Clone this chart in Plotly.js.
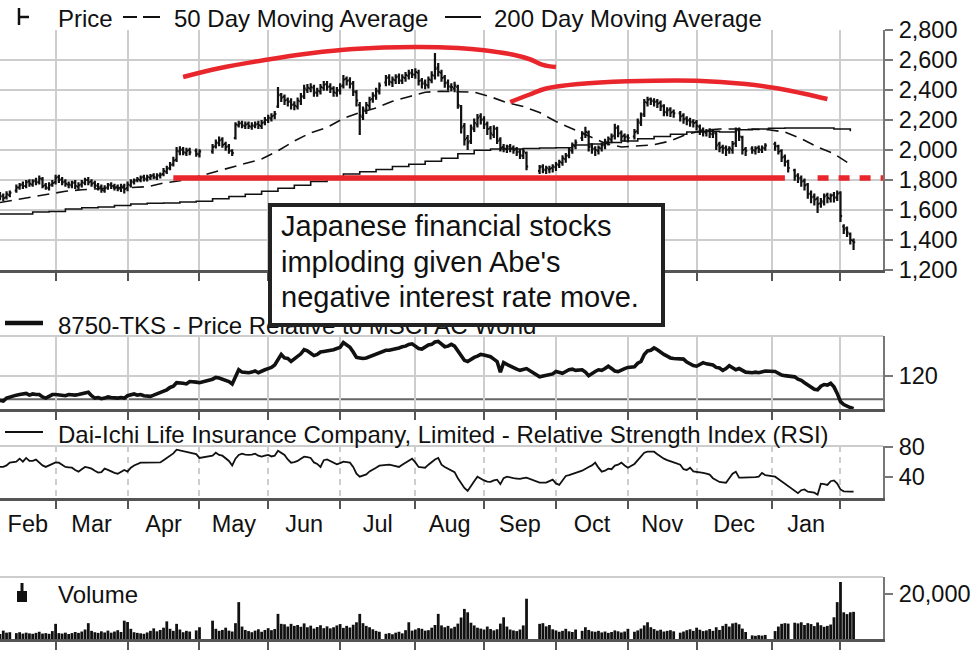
<!DOCTYPE html>
<html><head><meta charset="utf-8">
<script src="https://cdn.plot.ly/plotly-3.0.1.min.js"></script>
<style>html,body{margin:0;padding:0;background:#fff}#chart{width:976px;height:654px}</style>
</head><body><div id="chart"></div>
<script>
// ---------------- DATA ----------------
const startDate = '2015-02-05';
const rangeEnd = '2016-02-18';
const monthStarts = ['2015-03-02','2015-04-01','2015-05-01','2015-06-01','2015-07-01','2015-08-03','2015-09-01','2015-10-01','2015-11-02','2015-12-01','2016-01-01','2016-02-01'];
const monthMid = ['2015-02-17 12:00','2015-03-17','2015-04-16','2015-05-15 12:00','2015-06-16','2015-07-16 12:00','2015-08-17 12:00','2015-09-16','2015-10-16','2015-11-16 12:00','2015-12-16 12:00','2016-01-15 12:00'];
const monthNames = ['Feb','Mar','Apr','May','Jun','Jul','Aug','Sep','Oct','Nov','Dec','Jan'];
const priceTicks = [1200,1400,1600,1800,2000,2200,2400,2600,2800];
const relTicks = [120];
const rsiTicks = [40,80];
const volTicks = [20000];
const relBase = 100;

const openP = [
1700,1695,1685,1700,null,1730,1750,1770,1760,1790,
1770,1795,1785,1805,1765,1745,1770,1785,1820,1805,
1790,1770,1765,1785,1755,1770,1780,1800,1790,1780,
1760,1755,1730,1750,1770,1760,1755,1740,1760,1745,
1765,1785,1800,1800,1820,1805,1815,1830,1815,1830,
1840,1855,1880,1905,1935,1990,2005,1980,2000,null,
1995,1970,null,null,null,1990,2025,2045,2070,2040,
2025,1995,2080,2165,2180,2160,2175,2155,2160,2175,
2160,2185,2200,2210,2230,2290,2370,2355,2335,2325,
2305,2290,2325,2360,2400,2410,2415,2380,2390,2415,
2440,2425,2410,2380,2395,2430,2475,2465,2445,2385,
2300,2220,2260,2295,2340,2360,2390,null,2450,2485,
2450,2465,2490,2460,2480,2495,2515,2500,2515,2465,
2450,2430,2465,2495,2550,2515,2485,2450,2420,2410,
2420,2290,2160,2080,2060,2140,2170,2225,2205,2175,
2145,2100,2140,2070,2020,2005,2025,2015,2005,1990,
1960,1980,null,null,null,1860,1890,1865,1870,1880,
1885,1900,1915,1940,1965,1995,2025,null,2080,2105,
2115,2030,2010,1995,2010,2030,2050,2070,2095,2150,
2115,2095,2090,null,2090,2125,2180,2240,2315,2340,
2325,2325,2315,2295,2250,2270,2255,null,2245,2230,
2210,2200,2190,2185,2155,2135,2115,2130,2105,2110,
2040,2020,2015,2005,2000,2045,2140,2085,2005,null,
2010,1995,2015,2000,2010,null,null,2040,2025,1995,
1955,1925,null,1865,1830,1815,1795,1770,1710,1690,
1675,1645,1650,1700,1675,1700,1680,1715,1490,1480,
1440,1395];
const highP = [
1720,1710,1725,1730,null,1770,1780,1790,1800,1805,
1805,1815,1830,1820,1780,1785,1800,1835,1835,1820,
1805,1790,1795,1800,1785,1800,1815,1820,1805,1795,
1780,1770,1765,1780,1785,1775,1770,1775,1775,1790,
1805,1810,1820,1830,1835,1835,1840,1845,1845,1850,
1880,1895,1920,1955,2020,2025,2020,2015,2015,null,
2010,2005,null,null,null,2040,2070,2090,2085,2055,
2040,2005,2185,2195,2195,2190,2190,2185,2190,2195,
2200,2220,2235,2245,2260,2420,2380,2370,2350,2345,
2325,2350,2380,2435,2440,2445,2435,2415,2440,2460,
2460,2445,2425,2420,2445,2500,2490,2485,2460,2400,
2320,2290,2320,2355,2385,2415,2450,null,2500,2505,
2490,2505,2510,2505,2520,2535,2540,2545,2535,2480,
2470,2490,2525,2647,2580,2535,2500,2470,2445,2455,
2435,2300,2180,2100,2170,2210,2240,2245,2225,2190,
2160,2165,2155,2085,2040,2035,2040,2030,2020,2005,
2010,1990,null,null,null,1900,1905,1895,1895,1905,
1920,1935,1965,1980,2015,2050,2070,null,2125,2155,
2130,2045,2025,2030,2050,2075,2090,2110,2175,2165,
2130,2110,2105,null,2140,2210,2250,2340,2355,2350,
2345,2340,2330,2305,2285,2285,2270,null,2260,2245,
2225,2215,2205,2200,2170,2150,2140,2145,2135,2120,
2055,2035,2030,2025,2060,2150,2150,2095,2020,null,
2025,2025,2030,2030,2045,null,null,2055,2035,2005,
1970,1935,null,1875,1845,1830,1810,1780,1730,1710,
1690,1680,1710,1715,1710,1720,1730,1725,1505,1490,
1450,1410];
const lowP = [
1665,1660,1670,1685,null,1715,1735,1740,1745,1755,
1755,1765,1770,1745,1735,1730,1755,1770,1780,1765,
1755,1745,1745,1740,1735,1750,1765,1765,1755,1745,
1730,1715,1715,1735,1740,1730,1725,1720,1710,1725,
1750,1770,1785,1785,1790,1790,1800,1805,1800,1810,
1825,1840,1865,1890,1920,1965,1965,1960,1965,null,
1955,1950,null,null,null,1975,2010,2025,2015,1995,
1975,1960,2070,2150,2145,2140,2140,2135,2145,2140,
2140,2165,2180,2190,2205,2280,2320,2300,2290,2270,
2265,2270,2300,2340,2380,2385,2355,2355,2370,2395,
2395,2380,2355,2355,2370,2410,2430,2410,2360,2290,
2100,2200,2240,2270,2315,2335,2370,null,2425,2430,
2420,2440,2440,2440,2455,2470,2480,2475,2430,2410,
2405,2410,2445,2470,2490,2455,2415,2395,2390,2385,
2275,2110,2030,2000,2040,2120,2150,2170,2140,2100,
2070,2080,2040,1990,1985,1980,1985,1975,1960,1940,
1940,1865,null,null,null,1840,1845,1840,1845,1850,
1860,1880,1895,1915,1945,1975,2005,null,2060,2080,
1990,1975,1960,1970,1990,2005,2030,2045,2070,2085,
2060,2055,2050,null,2070,2105,2160,2220,2290,2300,
2290,2280,2260,2225,2225,2220,2215,null,2190,2175,
2165,2155,2150,2130,2100,2090,2090,2080,2080,2000,
1985,1975,1960,1975,1975,2020,2060,1970,1960,null,
1975,1970,1980,1980,1995,null,null,1995,1970,1920,
1890,1850,null,1795,1780,1755,1730,1675,1645,1630,
1580,1615,1630,1645,1650,1650,1660,1520,1440,1420,
1370,1333];
const closeP = [
1690,1680,1705,1715,null,1750,1765,1760,1785,1775,
1790,1785,1810,1760,1750,1765,1780,1815,1800,1785,
1775,1770,1780,1760,1765,1785,1800,1785,1775,1765,
1750,1735,1745,1765,1760,1750,1745,1755,1740,1770,
1790,1795,1805,1815,1810,1820,1825,1820,1830,1835,
1860,1875,1900,1930,1995,2000,1985,1995,1985,null,
1975,1990,null,null,null,2020,2050,2065,2035,2020,
1995,1980,2170,2175,2165,2170,2160,2165,2170,2165,
2180,2200,2215,2225,2240,2365,2350,2330,2320,2300,
2295,2330,2355,2410,2415,2420,2385,2395,2420,2435,
2420,2410,2385,2400,2425,2470,2460,2440,2390,2330,
2230,2270,2300,2335,2365,2395,2430,null,2480,2455,
2470,2485,2465,2485,2500,2510,2505,2520,2460,2440,
2435,2470,2500,2540,2520,2480,2445,2425,2420,2430,
2300,2150,2070,2050,2150,2180,2215,2200,2170,2140,
2110,2145,2060,2015,2010,2020,2010,2000,1985,1965,
1990,1890,null,null,null,1885,1870,1880,1875,1890,
1905,1920,1945,1960,2000,2030,2050,null,2110,2120,
2020,2005,2000,2015,2035,2055,2075,2090,2145,2110,
2090,2085,2080,null,2120,2190,2230,2320,2335,2330,
2320,2310,2290,2255,2265,2250,2245,null,2225,2205,
2195,2185,2180,2160,2130,2120,2125,2110,2115,2030,
2015,2010,2000,2010,2040,2130,2090,2000,1995,null,
2000,2010,2005,2015,2030,null,null,2025,1990,1950,
1920,1880,null,1825,1810,1790,1765,1705,1685,1670,
1640,1660,1690,1680,1695,1685,1710,1560,1470,1450,
1400,1385];
// moving averages, one value every 5 trading slots
const ma50 = [1650,1670,1690,1710,1725,1735,1742,1748,1750,1755,1780,1795,1820,1850,1875,1905,1940,1995,2060,2115,2150,2210,2250,2280,2325,2355,2385,2392,2390,2385,2355,2315,2290,2250,2190,2140,2090,2045,2020,2025,2035,2060,2105,2130,2140,2140,2140,2135,2120,2075,2020,1975,1905];
const ma200 = [1573,1573,1587,1590,1607,1615,1620,1630,1640,1645,1647,1653,1658,1675,1690,1705,1725,1745,1765,1790,1815,1840,1855,1870,1890,1905,1925,1945,1975,1998,2007,2007,2010,2013,2015,2033,2040,2050,2060,2075,2090,2105,2120,2125,2120,2135,2140,2145,2147,2147,2147,2140,2125];
const relStrength = [
99,98.5,101,102,null,103.5,104,104.5,105,103.5,
104.5,104,104,102,101,102.5,104,104,103.5,103,
103,104,103.5,103.5,104,104.5,105.5,106,103,101,
101.5,100.5,101,102,101.5,101,101,101.5,101,103,
104,104.5,103.5,104,103,102.5,102.5,103.5,104.5,105.5,
107,108,110,111,114,114,113.5,113,115,null,
114.5,114,null,null,null,117,118.5,118,117,116.5,
115,113,120,125,123,122.5,122.5,123,124,122.5,
124,125,126,127,129,133,138,135,134.5,132,
134,136,138.5,142,141,139,137,138,140,140.5,
141,141,142,143,144,148,146,144,140,135.5,
135,134.5,135,136,137.5,138,139.5,null,141.5,141.5,
142,143,143.5,144.5,145,146.5,147,145,143,142.5,
144,146,146.5,148.5,149,146.5,144.5,145,146.5,145,
141,137,133,132,134,135.5,136.5,138,137.5,137,
136,134,132,123,131,129.5,128,126.5,125.5,124.5,
125,126,null,null,null,119,119.5,120,121,121.5,
123.5,122.5,122,123.5,125,125.5,124.5,null,125,123,
120,122,123.5,125,124.5,126,128,126,124,123.5,
125,126,127,null,127.5,130.5,132,138,141,141.5,
143.5,142,139.5,138,136.5,135,134.5,null,134,134,
131.5,130,128.5,128,129.5,131,130,129.5,129,127,
126.5,124.5,126,128.5,127,125,126,124.5,123,null,
122.5,123,122.5,123,124,null,null,123.5,122,120.5,
120,119.5,null,119,117,116,114,112,110.5,108.5,
108,111,112.5,112,113.5,110.5,105,98,95.5,94,
93,92];
const rsi = [
53,53,55,58.7,null,60,64,60,65,61,
61,62.7,59,55,53,55,57,59,58.7,56,
53,52.5,52,49,46.7,50,53,52,50.7,48,
45.5,46,50.7,49,46.7,45,44,47,49,46.7,
52,55,57,58.7,58.7,58.7,58.7,58.7,58.7,59,
62,65,67,71,76,75,73.5,73.3,72,null,
70,65,null,null,null,68,72,69,68,65,
61,55,64,69,70.7,69.5,69,69.5,70.7,68,
66.7,68,69,67,68,74.7,72,69,63,58.7,
59.5,61,64,66.7,66,65,59,57,53,62,
63,60.5,58,56.5,58,60,59.5,58.7,53,44,
40,42,43,47,50,52,54.7,null,55.5,56,
55,54,53,56,58.7,61,64,59,53,52.5,
52,56,60,63,65,56,53,51,49,46,
38,31,25,21,26.7,34,40,37,35,33.5,
33,35,36,30,38,40,38.7,38,37.5,37,
38,38.7,null,null,null,32,32,32,34,36,
31,29,35,41,42,43,45,null,48,51,
53,55,58.7,52,46.7,48,50.7,50,54.7,56,
58.7,55,52,null,57,62,66,72,73.3,73.3,
73.3,70,66.7,64,62,60,59,null,56,50,
49,52,47,46.5,45.5,45,44,42.7,38,35,
33,32.5,32,38,44,46.7,38.7,38.7,38.7,null,
39,39.5,40,45,42,null,null,40,37,34,
31,27,null,21,18,22,23,20,19.5,18.7,
16,30.7,30,29,34,35,30.7,23,20.5,20,
20,20];
const volume = [
2200,3700,2800,3000,null,2600,3000,2400,2800,2500,
2300,2700,3200,2400,2600,2300,3500,6700,2600,2400,
2800,2200,2600,3100,2700,3300,4200,7000,3600,3000,
2700,3400,2900,3700,2800,3300,3900,3100,8100,7500,
4500,3000,2700,2500,2300,2900,3600,4700,3400,4000,
5000,7800,4500,3600,6700,4200,3000,3600,3300,null,
3800,5200,null,null,null,8100,4500,3600,4000,5000,
3700,3300,7000,16300,5500,4000,3500,3000,3700,4300,
3200,4000,4800,3900,4400,11100,6700,6500,5500,6700,
5800,6200,5400,6900,5200,5900,4600,5300,6100,4800,
5600,4700,5200,6000,6600,4900,5800,5100,6300,7400,
11100,7000,5800,5200,4300,3600,3200,null,2300,2600,
2100,2800,3200,2500,3900,7400,3700,4200,4800,4500,
3700,3900,5000,6200,11100,6000,5200,5800,4700,5400,
6800,9500,13300,11800,7200,6000,5000,4600,4200,5500,
4400,3800,4300,6800,9600,5500,4200,3800,3500,4200,
6000,17800,null,null,null,6700,7000,5600,6200,4300,
3800,3200,3600,4500,3400,3100,4200,null,3600,5200,
4000,3400,3200,3600,2900,3300,2700,3100,3800,3400,
2900,3300,4500,null,3200,3800,4600,6000,7400,5200,
4400,3700,4100,3300,3600,3900,3400,null,2800,3300,
3900,4300,3600,5000,4100,3500,3800,4400,3600,5200,
4000,5800,6700,5500,6900,7200,6500,4600,3100,null,
1600,1400,1700,1500,1800,null,null,3500,5500,6700,
7000,6800,null,7200,6900,7400,6200,7000,6600,5700,
7300,6100,5400,5800,6400,9600,16300,25200,11800,11000,
11800,12000];
// hand-drawn red annotation lines (trading-slot index, price)
const arc1Idx = [56,67,81,95,108,127,140,148,157,162,166,170];
const arc1Val = [2487,2545,2600,2645,2673,2687,2680,2665,2635,2605,2568,2553];
const arc2Idx = [156,162,167,177,192,213,228,238,248,253];
const arc2Val = [2320,2370,2410,2440,2458,2462,2440,2410,2365,2340];
const levelVal = 1813;
const levelSolidIdx = [53,240];
const levelDashIdx = 250;

// ---------------- BUILD ----------------
function weekdays(start, n){
  const out=[]; const d=new Date(start+'T00:00:00Z');
  while(out.length<n){const w=d.getUTCDay(); if(w!==0&&w!==6) out.push(d.toISOString().slice(0,10)); d.setUTCDate(d.getUTCDate()+1);}
  return out;
}
const dates = weekdays(startDate, closeP.length);
const maX = ma50.map((_,k)=>dates[k*5]);

const PW=883, PB=639, PH=609;
const px = v => v/PW;
const py = v => (PB - v)/PH;
const FONT = 'Liberation Sans, Arial, Helvetica, sans-serif';
const RED = '#e8262c';
const INK = '#111';

const traces = [
  {type:'ohlc', x:dates, open:openP, high:highP, low:lowP, close:closeP, xaxis:'x', yaxis:'y',
   increasing:{line:{color:INK, width:2.2}}, decreasing:{line:{color:INK, width:2.2}}, tickwidth:0.5, hoverinfo:'skip'},
  {type:'scatter', mode:'lines', x:maX, y:ma50, xaxis:'x', yaxis:'y', line:{color:INK, width:1.6, dash:'12px,7px'}},
  {type:'scatter', mode:'lines', x:maX, y:ma200, xaxis:'x', yaxis:'y', line:{color:INK, width:1.6, shape:'hv'}},
  {type:'scatter', mode:'lines', x:arc1Idx.map(i=>dates[i]), y:arc1Val, xaxis:'x', yaxis:'y', line:{color:RED, width:4.5, shape:'spline'}},
  {type:'scatter', mode:'lines', x:arc2Idx.map(i=>dates[i]), y:arc2Val, xaxis:'x', yaxis:'y', line:{color:RED, width:4.5, shape:'spline'}},
  {type:'scatter', mode:'lines', x:levelSolidIdx.map(i=>dates[i]), y:[levelVal,levelVal], xaxis:'x', yaxis:'y', line:{color:RED, width:5.5}},
  {type:'scatter', mode:'lines', x:[dates[levelDashIdx], rangeEnd], y:[levelVal,levelVal], xaxis:'x', yaxis:'y', line:{color:RED, width:5.5, dash:'11px,10px'}},
  {type:'scatter', mode:'lines', x:dates, y:relStrength, xaxis:'x2', yaxis:'y2', connectgaps:true, line:{color:INK, width:3.6}},
  {type:'scatter', mode:'lines', x:dates, y:rsi, xaxis:'x3', yaxis:'y3', connectgaps:true, line:{color:INK, width:1.8}},
  {type:'bar', x:dates, y:volume, xaxis:'x4', yaxis:'y4', marker:{color:INK, line:{width:0}}}
];

const xBase = {type:'date', range:[startDate, rangeEnd], rangebreaks:[{bounds:['sat','mon']}],
  showline:true, linecolor:'#555', linewidth:2.5, ticks:'outside', ticklen:8, tickwidth:2, tickcolor:'#555',
  tickmode:'array', tickvals:monthStarts, showticklabels:false, showgrid:true, gridcolor:'#cdcdcd', gridwidth:2,
  zeroline:false, fixedrange:true, automargin:false};
const yBase = {side:'right', showline:true, linecolor:'#777', linewidth:2, ticks:'outside', ticklen:8, tickwidth:2,
  tickcolor:'#777', tickfont:{size:23.5, color:INK}, zeroline:false, fixedrange:true, automargin:false,
  ticklabelstandoff:1, tickmode:'array'};

const shapes = [];
function hline(x0,x1,y,w,dash){shapes.push({type:'line', xref:'paper', yref:'paper', x0:px(x0), x1:px(x1), y0:py(y), y1:py(y), line:{color:INK, width:w, dash:dash||'solid'}});}
// legend glyphs
shapes.push({type:'line', xref:'paper', yref:'paper', x0:px(19), x1:px(19), y0:py(8), y1:py(25), line:{color:INK, width:2.5}});
hline(19,29,17,2.5);
hline(123,137,17,2); hline(143,160,17,2);
hline(445,481,17,2);
hline(5,43,323,4.5);
hline(5,43,432,2);
shapes.push({type:'rect', xref:'paper', yref:'paper', x0:px(17), x1:px(27), y0:py(602), y1:py(591), fillcolor:INK, line:{width:0}});
shapes.push({type:'rect', xref:'paper', yref:'paper', x0:px(20.5), x1:px(23.5), y0:py(591), y1:py(583), fillcolor:INK, line:{width:0}});
// panel top borders
[336,446,577].forEach(y=>shapes.push({type:'line', layer:'below', xref:'paper', yref:'paper', x0:0, x1:1, y0:py(y), y1:py(y), line:{color:'#cdcdcd', width:2}}));
// relative-strength base line
shapes.push({type:'line', layer:'below', xref:'paper', yref:'y2', x0:0, x1:1, y0:relBase, y1:relBase, line:{color:'#666', width:2}});

function lbl(text, x, y, size){return {text:text, xref:'paper', yref:'paper', x:px(x), y:py(y), xanchor:'left', yanchor:'middle', showarrow:false, font:{size:size||24, color:INK, family:FONT}};}
const annotations = [
  lbl('Price',56,18), lbl('50 Day Moving Average',172,18), lbl('200 Day Moving Average',492,18),
  lbl('8750-TKS - Price Relative to MSCI AC World',56,325),
  lbl('Dai-Ichi Life Insurance Company, Limited - Relative Strength Index (RSI)',56,434),
  lbl('Volume',56,594),
  {text:'\u00a0', xref:'paper', yref:'paper', x:px(466.5), y:py(265), xanchor:'center', yanchor:'middle', showarrow:false,
   width:389, height:116, bgcolor:'#ffffff', bordercolor:'#222', borderwidth:4, borderpad:0},
  lbl('Japanese financial stocks',279,226,29),
  lbl("imploding given Abe's",279,262,29),
  lbl('negative interest rate move.',279,297,29)
];

const layout = {
  width:976, height:654, margin:{l:0, r:93, t:30, b:15, pad:0},
  paper_bgcolor:'#fff', plot_bgcolor:'#fff', showlegend:false, hovermode:false,
  font:{family:FONT, size:23.5, color:INK}, bargap:0.15,
  xaxis:Object.assign({}, xBase, {anchor:'y', rangeslider:{visible:false}}),
  xaxis2:Object.assign({}, xBase, {anchor:'y2'}),
  xaxis3:Object.assign({}, xBase, {anchor:'y3', tickvals:monthMid, ticktext:monthNames, showticklabels:true, ticks:'', showgrid:false,
    tickfont:{size:23.5, color:INK}, ticklabelstandoff:3,
    minor:{tickmode:'array', tickvals:monthStarts, ticks:'outside', ticklen:8, tickwidth:2, tickcolor:'#555', showgrid:true, gridcolor:'#cdcdcd', gridwidth:2, griddash:'6px,5px'}}),
  xaxis4:Object.assign({}, xBase, {anchor:'y4', showgrid:false}),
  yaxis:Object.assign({}, yBase, {anchor:'x', domain:[py(270),1], range:[1200,2800], tickvals:priceTicks, tickformat:',d', showgrid:true, gridcolor:'#cdcdcd', gridwidth:2}),
  yaxis2:Object.assign({}, yBase, {anchor:'x2', domain:[py(409.3),py(336)], range:[91.5,153.6], tickvals:relTicks, showgrid:true, gridcolor:'#cdcdcd', gridwidth:2}),
  yaxis3:Object.assign({}, yBase, {anchor:'x3', domain:[py(498),py(446)], range:[11.6,80.9], tickvals:rsiTicks, showgrid:false}),
  yaxis4:Object.assign({}, yBase, {anchor:'x4', domain:[0,py(577)], range:[0,27400], tickvals:volTicks, tickformat:',d', showgrid:false}),
  shapes:shapes, annotations:annotations
};
Plotly.newPlot('chart', traces, layout, {staticPlot:true, displayModeBar:false});
</script></body></html>
